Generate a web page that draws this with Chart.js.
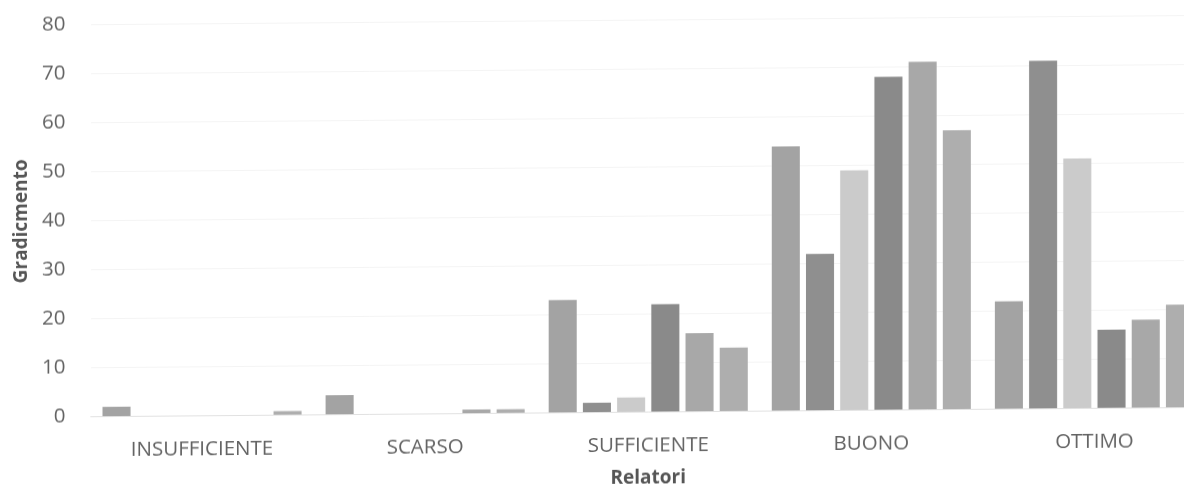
<!DOCTYPE html>
<html>
<head>
<meta charset="utf-8">
<script src="https://cdn.jsdelivr.net/npm/chart.js@4/dist/chart.umd.min.js"></script>
<style>
  html, body { margin: 0; padding: 0; background: #ffffff; overflow: hidden; width: 1184px; height: 489px; }
  #wrap { position: absolute; left: 0; top: 0; width: 1206px; height: 495px; transform: skewY(-0.48deg); transform-origin: 0 0; }
</style>
</head>
<body>
<div id="wrap"><canvas id="c"></canvas></div>
<script>
const categories = ['INSUFFICIENTE', 'SCARSO', 'SUFFICIENTE', 'BUONO', 'OTTIMO'];
const serie1 = [2, 4, 23, 54, 22];
const serie2 = [0, 0, 2, 32, 71];
const serie3 = [0, 0, 3, 49, 51];
const serie4 = [0, 0, 22, 68, 16];
const serie5 = [0, 0.8, 16, 71, 18];
const serie6 = [0.8, 0.8, 13, 57, 21];
const seriesNames = ['Serie 1', 'Serie 2', 'Serie 3', 'Serie 4', 'Serie 5', 'Serie 6'];
const yTicks = [0, 10, 20, 30, 40, 50, 60, 70, 80];
const yTitle = 'Gradicmento';
const xTitle = 'Relatori';

const colors = ['#a3a3a3', '#8f8f8f', '#cbcbcb', '#8a8a8a', '#a8a8a8', '#aeaeae'];
const allSeries = [serie1, serie2, serie3, serie4, serie5, serie6];

const tickFont = { family: '"Open Sans", "DejaVu Sans", sans-serif', size: 20.5 };
const titleFont = { family: '"Open Sans", "DejaVu Sans", sans-serif', size: 19, weight: 'bold' };

new Chart(document.getElementById('c'), {
  type: 'bar',
  data: {
    labels: categories,
    datasets: allSeries.map((d, i) => ({
      label: seriesNames[i],
      data: d,
      backgroundColor: colors[i],
      borderWidth: 0,
      categoryPercentage: 0.92,
      barPercentage: 0.82
    }))
  },
  options: {
    responsive: true,
    maintainAspectRatio: false,
    animation: false,
    layout: { padding: { top: 25.5, right: 0, bottom: 0, left: 0 } },
    plugins: { legend: { display: false }, tooltip: { enabled: false } },
    scales: {
      x: {
        grid: { display: false, drawTicks: false },
        border: { display: true, color: 'rgba(0,0,0,0.08)' },
        ticks: { color: '#636363', font: tickFont, padding: 21, maxRotation: 0 },
        title: { display: true, text: xTitle, color: '#555555', font: titleFont, padding: { top: 0, bottom: 0 } },
        afterFit: (s) => { s.height = 77.5; s.paddingLeft = 0; s.paddingRight = 0; }
      },
      y: {
        min: yTicks[0],
        max: yTicks[yTicks.length - 1],
        afterBuildTicks: (s) => { s.ticks = yTicks.map(v => ({ value: v })); },
        grid: { color: 'rgba(0,0,0,0.045)', drawTicks: false },
        border: { display: false },
        ticks: { color: '#636363', font: tickFont, padding: 25 },
        title: { display: true, text: yTitle, color: '#555555', font: titleFont, padding: { top: 10, bottom: 0 } },
        afterFit: (s) => { s.width = 90.5; s.paddingTop = 0; s.paddingBottom = 0; }
      }
    }
  }
});
</script>
</body>
</html>
